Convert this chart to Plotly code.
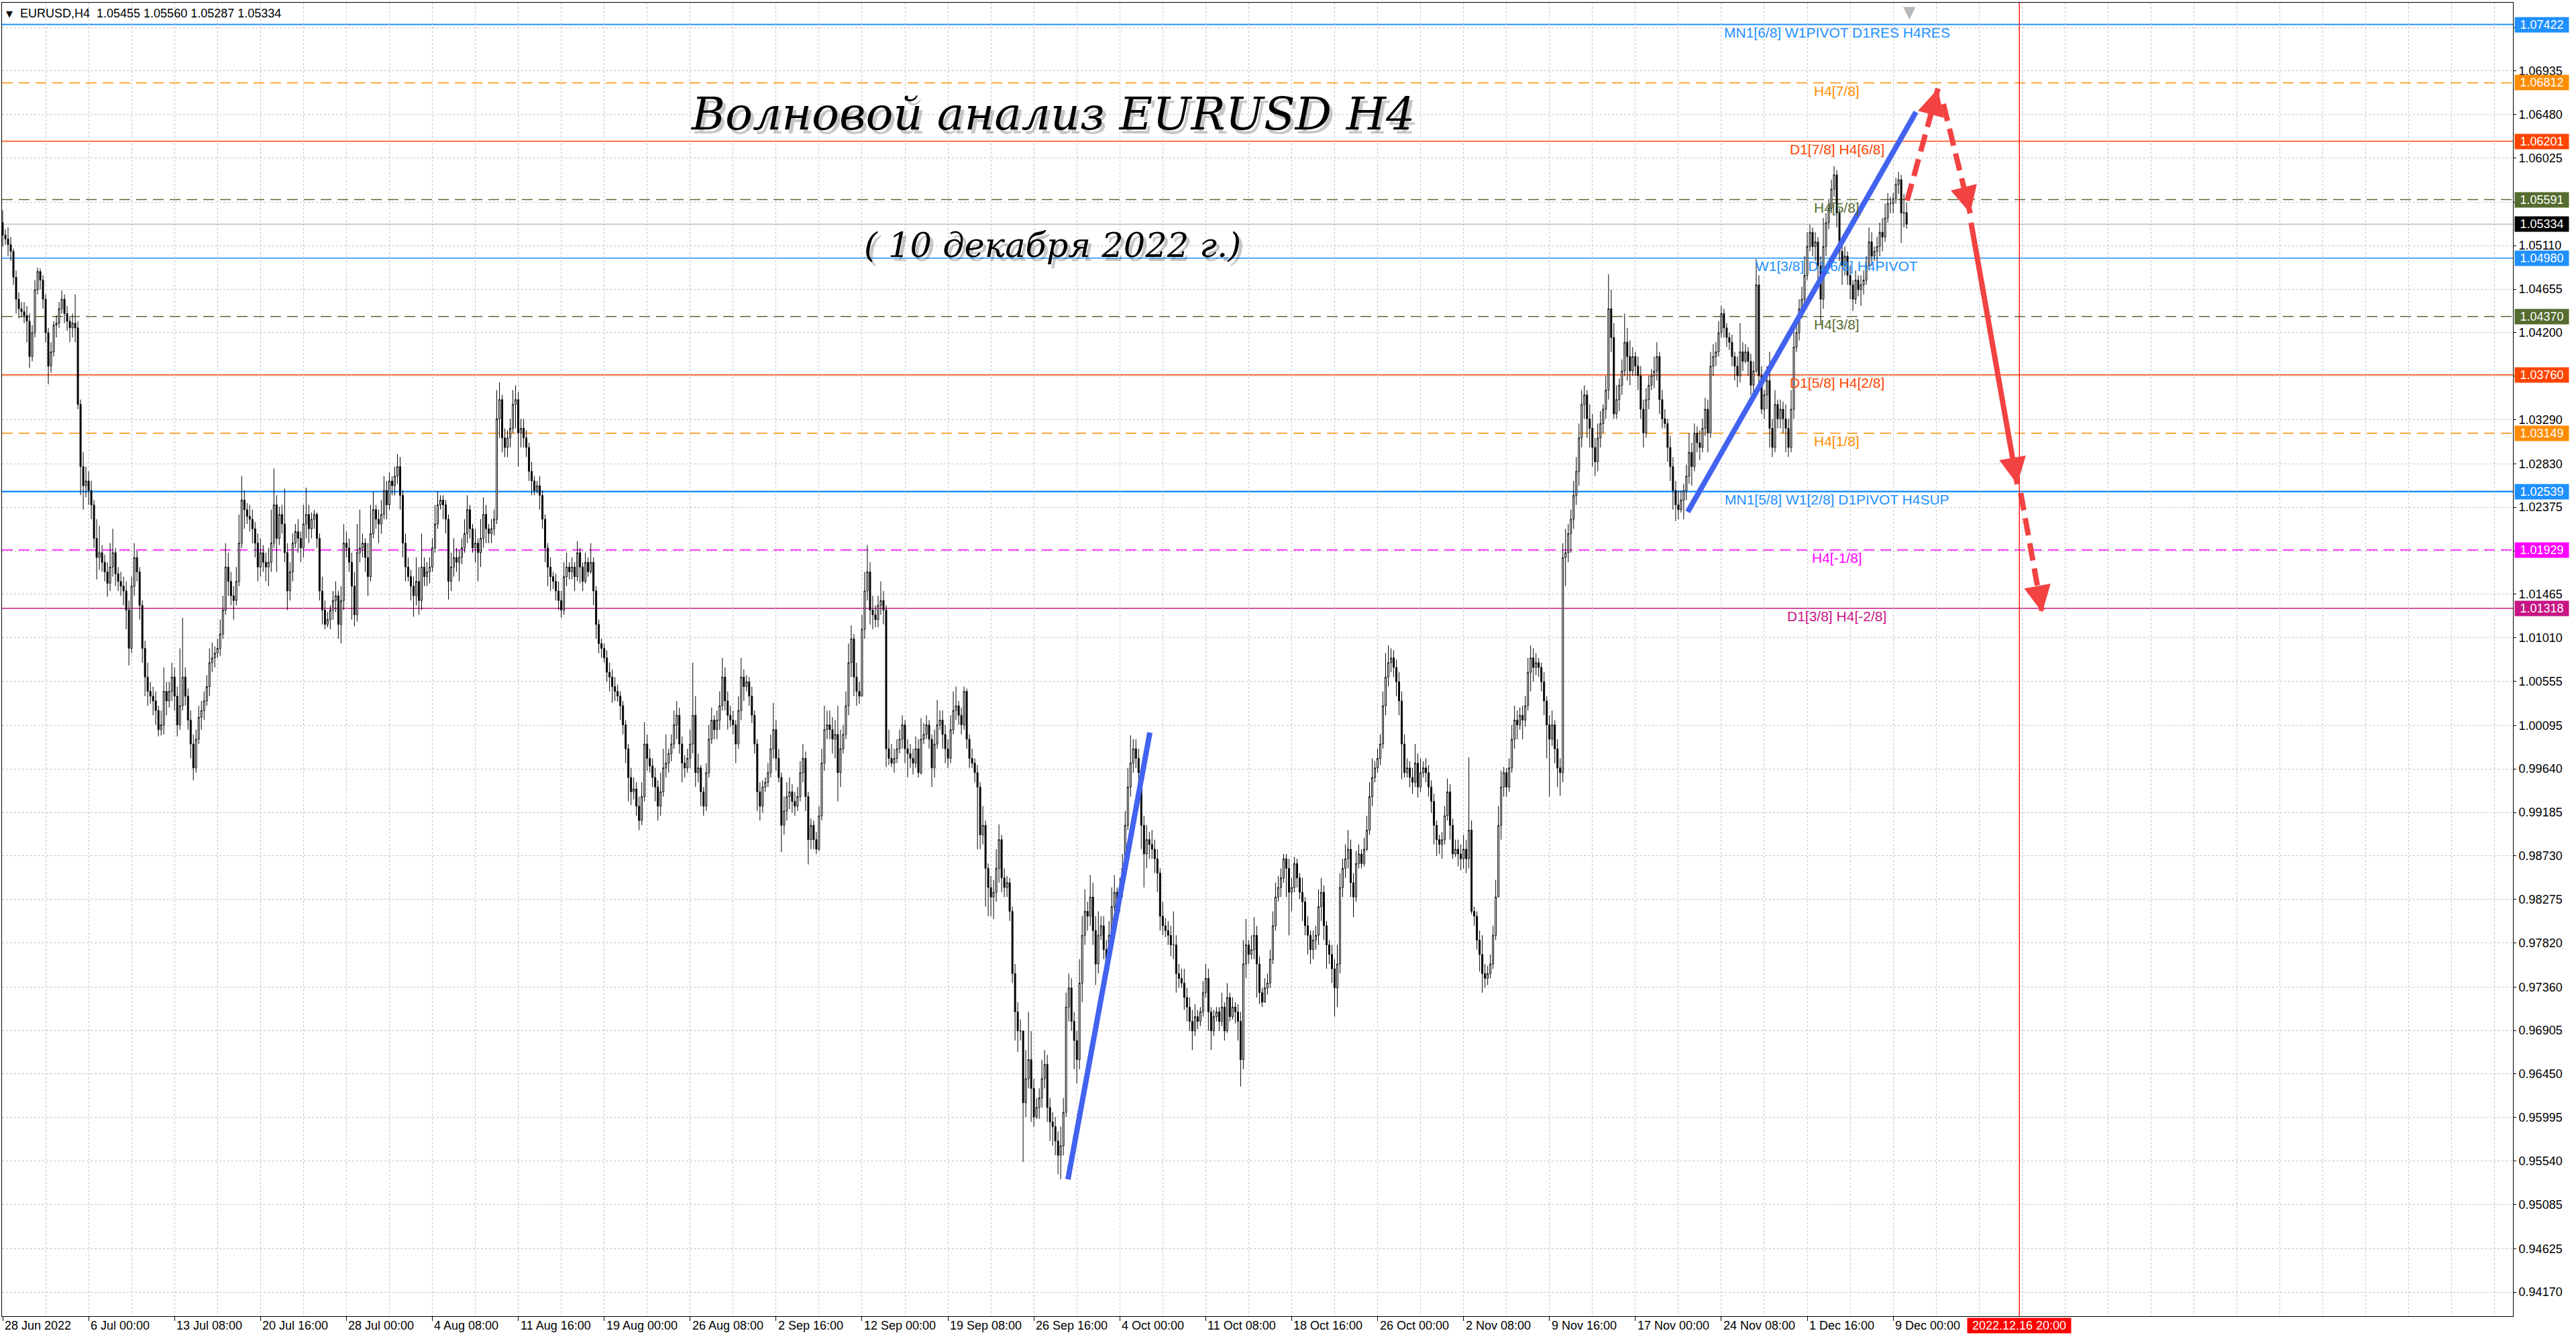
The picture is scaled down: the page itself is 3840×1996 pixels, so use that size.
import math
import plotly.graph_objects as go

# ---------------- DATA (EURUSD H4, prices in pips = 1e-4) ----------------
first_open = 10535
closes = [
    10522, 10518,
    10512, 10505, 10478, 10455, 10445, 10442,
    10438, 10432, 10395, 10420, 10465, 10484,
    10475, 10455, 10420, 10385, 10400, 10428,
    10430, 10445, 10455, 10440, 10432, 10425,
    10430, 10425, 10345, 10280, 10260, 10265,
    10255, 10240, 10205, 10185, 10190, 10180,
    10170, 10158, 10175, 10190, 10168, 10160,
    10155, 10150, 10130, 10090, 10155, 10185,
    10170, 10135, 10090, 10060, 10045, 10040,
    10035, 10025, 10005, 10010, 10045, 10035,
    10045, 10060, 10040, 10010, 10030, 10060,
    10040, 10015, 9990, 9965, 9995, 10018,
    10025, 10035, 10050, 10075, 10080, 10085,
    10090, 10105, 10130, 10175, 10160, 10145,
    10140, 10160, 10200, 10245, 10235, 10228,
    10225, 10215, 10200, 10175, 10190, 10180,
    10175, 10180, 10200, 10240, 10205, 10230,
    10220, 10190, 10150, 10170, 10200, 10212,
    10205, 10195, 10220, 10230, 10215, 10225,
    10230, 10205, 10150, 10130, 10115, 10120,
    10130, 10140, 10145, 10115, 10140, 10200,
    10195, 10180, 10155, 10125, 10190, 10195,
    10200, 10185, 10165, 10210, 10235, 10225,
    10220, 10230, 10255, 10240, 10265, 10260,
    10270, 10280, 10250, 10200, 10175, 10165,
    10155, 10145, 10160, 10140, 10175, 10165,
    10170, 10175, 10195, 10220, 10240, 10245,
    10240, 10225, 10160, 10175, 10185, 10180,
    10185, 10195, 10210, 10235, 10215, 10195,
    10200, 10190, 10205, 10230, 10215, 10210,
    10215, 10225, 10330, 10350, 10310, 10300,
    10310, 10320, 10345, 10350, 10315, 10320,
    10310, 10300, 10275, 10265, 10255, 10260,
    10250, 10225, 10195, 10175, 10165, 10160,
    10150, 10140, 10130, 10165, 10175, 10170,
    10175, 10165, 10190, 10175, 10160, 10180,
    10170, 10180, 10150, 10115, 10095, 10090,
    10080, 10065, 10060, 10050, 10045, 10040,
    10030, 10010, 9985, 9955, 9940, 9943,
    9925, 9910, 9935, 9990, 9975, 9967,
    9955, 9945, 9925, 9940, 9965, 9970,
    9980, 9990, 10010, 10020, 9990, 9970,
    9965, 9975, 9990, 10020, 9960, 9965,
    9940, 9925, 9960, 9995, 10015, 10005,
    10015, 10030, 10060, 10035, 10020, 10015,
    10010, 9990, 10025, 10060, 10050, 10055,
    10040, 10020, 9990, 9940, 9925, 9945,
    9950, 9960, 9985, 10005, 9975, 9955,
    9905, 9920, 9935, 9940, 9930, 9925,
    9935, 9960, 9975, 9935, 9890, 9905,
    9890, 9880, 9915, 9970, 10005, 10010,
    10005, 9995, 10000, 9960, 9985, 10000,
    10030, 10075, 10100, 10060, 10045, 10040,
    10110, 10150, 10170, 10130, 10125, 10120,
    10135, 10140, 10130, 9985, 9975, 9970,
    9975, 9985, 9995, 10010, 9985, 9980,
    9975, 9970, 9985, 9960, 9995, 10000,
    10010, 9995, 9965, 9990, 10010, 10015,
    10000, 9985, 9975, 10005, 10025, 10030,
    10020, 10010, 10045, 9995, 9975, 9970,
    9960, 9945, 9895, 9905, 9860, 9840,
    9830, 9835, 9860, 9890, 9850, 9840,
    9845, 9815, 9750, 9710, 9690, 9690,
    9615, 9640, 9660, 9630, 9600, 9610,
    9620, 9640, 9655, 9610, 9595, 9590,
    9575, 9560, 9570, 9605, 9715, 9735,
    9700, 9680, 9660, 9740, 9790, 9815,
    9810, 9830, 9795, 9760, 9790, 9800,
    9775, 9760, 9790, 9820, 9835, 9825,
    9840, 9860, 9905, 9945, 9970, 9985,
    9975, 9960, 9905, 9875, 9890, 9885,
    9880, 9870, 9855, 9810, 9800, 9795,
    9790, 9780, 9780, 9750, 9745, 9740,
    9725, 9715, 9700, 9690, 9705, 9700,
    9710, 9730, 9745, 9710, 9690, 9705,
    9710, 9700, 9715, 9690, 9725, 9705,
    9715, 9710, 9700, 9660, 9760, 9780,
    9770, 9775, 9790, 9760, 9730, 9720,
    9735, 9740, 9765, 9800, 9830, 9840,
    9850, 9870, 9860, 9835, 9840, 9865,
    9850, 9835, 9825, 9800, 9790, 9775,
    9785, 9790, 9820, 9835, 9800, 9780,
    9770, 9755, 9735, 9760, 9840, 9860,
    9870, 9880, 9845, 9830, 9865, 9875,
    9865, 9880, 9900, 9935, 9955, 9965,
    9975, 9990, 10030, 10060, 10075, 10080,
    10070, 10055, 10035, 9990, 9960, 9965,
    9955, 9950, 9970, 9945, 9960, 9965,
    9960, 9945, 9930, 9905, 9890, 9885,
    9890, 9915, 9940, 9905, 9875, 9880,
    9875, 9870, 9880, 9870, 9900, 9815,
    9810, 9785, 9770, 9750, 9745, 9750,
    9760, 9790, 9830, 9905, 9945, 9960,
    9945, 9965, 9995, 10015, 10010, 10020,
    10015, 10030, 10065, 10080, 10070, 10075,
    10070, 10055, 10035, 10010, 9995, 10010,
    9985, 9965, 9960, 10185, 10190, 10210,
    10225, 10250, 10275, 10310, 10345, 10355,
    10330, 10320, 10300, 10285, 10310, 10325,
    10340, 10360, 10445, 10415, 10335, 10350,
    10365, 10380, 10410, 10395, 10380, 10395,
    10385, 10375, 10340, 10315, 10350, 10365,
    10375, 10380, 10395, 10350, 10330, 10325,
    10300, 10280, 10255, 10240, 10235, 10245,
    10255, 10270, 10295, 10280, 10315, 10305,
    10300, 10320, 10340, 10315, 10385, 10395,
    10400, 10420, 10440, 10425, 10415, 10410,
    10395, 10385, 10375, 10400, 10390, 10400,
    10390, 10365, 10380, 10470, 10375, 10340,
    10355, 10370, 10320, 10300, 10345, 10330,
    10340, 10330, 10320, 10300, 10340, 10405,
    10420, 10445, 10455, 10480, 10510, 10525,
    10510, 10515, 10490, 10455, 10510, 10535,
    10550, 10570, 10585, 10545, 10505, 10490,
    10500, 10480, 10470, 10455, 10475, 10465,
    10470, 10475, 10490, 10515, 10500, 10505,
    10510, 10525, 10520, 10540, 10555, 10555,
    10560, 10575, 10580, 10545, 10545.5, 10533.4,
]
highs = [
    10548, 10528,
    10530, 10520, 10508, 10485, 10462, 10452,
    10452, 10448, 10440, 10428, 10475, 10488,
    10487, 10480, 10460, 10425, 10410, 10432,
    10438, 10452, 10464, 10460, 10448, 10436,
    10440, 10460, 10432, 10350, 10295, 10280,
    10275, 10265, 10245, 10225, 10218, 10198,
    10188, 10180, 10200, 10215, 10195, 10175,
    10170, 10165, 10160, 10140, 10165, 10200,
    10192, 10175, 10140, 10098, 10075, 10055,
    10050, 10045, 10030, 10025, 10070, 10055,
    10055, 10075, 10070, 10050, 10090, 10122,
    10070, 10048, 10025, 10000, 10005, 10030,
    10035, 10045, 10062, 10090, 10096, 10092,
    10100, 10120, 10145, 10200, 10190, 10170,
    10155, 10175, 10230, 10270, 10255, 10242,
    10240, 10235, 10222, 10210, 10205, 10198,
    10190, 10195, 10235, 10278, 10250, 10238,
    10240, 10257, 10200, 10180, 10210, 10220,
    10225, 10212, 10240, 10258, 10240, 10232,
    10235, 10232, 10210, 10165, 10140, 10128,
    10135, 10150, 10160, 10150, 10155, 10220,
    10212, 10205, 10190, 10170, 10220, 10235,
    10210, 10205, 10200, 10240, 10254, 10240,
    10235, 10245, 10270, 10265, 10274, 10270,
    10280, 10293, 10290, 10255, 10210, 10185,
    10172, 10165, 10185, 10175, 10210, 10185,
    10180, 10185, 10205, 10240, 10254, 10250,
    10250, 10245, 10230, 10190, 10205, 10195,
    10192, 10205, 10225, 10250, 10240, 10220,
    10215, 10205, 10225, 10248, 10240, 10220,
    10225, 10235, 10360, 10368, 10355, 10320,
    10318, 10330, 10360, 10365, 10358, 10330,
    10330, 10318, 10305, 10285, 10270, 10265,
    10270, 10255, 10230, 10200, 10185, 10170,
    10168, 10160, 10150, 10180, 10190, 10180,
    10185, 10180, 10202, 10195, 10180, 10190,
    10185, 10200, 10185, 10155, 10120, 10100,
    10095, 10088, 10075, 10068, 10060, 10052,
    10045, 10035, 10015, 9990, 9965, 9955,
    9950, 9935, 9950, 10013, 10000, 9985,
    9975, 9965, 9952, 9960, 9985, 10000,
    9985, 10000, 10025, 10035, 10028, 9998,
    9978, 9985, 10005, 10075, 10040, 9980,
    9968, 9945, 9970, 10010, 10028, 10020,
    10025, 10045, 10080, 10070, 10045, 10030,
    10025, 10015, 10040, 10080, 10068, 10062,
    10060, 10050, 10025, 9995, 9950, 9952,
    9955, 9970, 10000, 10033, 10015, 9985,
    9960, 9935, 9950, 9955, 9948, 9940,
    9945, 9972, 9990, 9982, 9940, 9912,
    9910, 9898, 9925, 9985, 10030, 10025,
    10025, 10018, 10015, 10030, 10005, 10010,
    10045, 10095, 10114, 10105, 10075, 10055,
    10125, 10170, 10198, 10180, 10145, 10135,
    10145, 10160, 10150, 10135, 10005, 9990,
    9985, 9995, 10005, 10020, 10015, 9995,
    9990, 9985, 9998, 9995, 10017, 10012,
    10020, 10015, 10000, 10005, 10036, 10025,
    10025, 10010, 9995, 10020, 10045, 10050,
    10035, 10028, 10050, 10048, 10000, 9985,
    9975, 9968, 9950, 9925, 9910, 9865,
    9852, 9848, 9880, 9906, 9895, 9860,
    9852, 9850, 9820, 9760, 9720, 9702,
    9690, 9670, 9710, 9690, 9640, 9620,
    9630, 9660, 9670, 9665, 9620, 9605,
    9600, 9585, 9590, 9620, 9730, 9750,
    9745, 9710, 9690, 9765, 9810, 9838,
    9825, 9853, 9845, 9810, 9815, 9810,
    9810, 9785, 9805, 9840, 9853, 9840,
    9850, 9875, 9920, 9965, 9999, 9995,
    9995, 9985, 9965, 9915, 9905, 9898,
    9900, 9890, 9880, 9860, 9825, 9808,
    9805, 9800, 9815, 9790, 9760, 9755,
    9755, 9735, 9725, 9712, 9718, 9712,
    9715, 9742, 9760, 9755, 9715, 9712,
    9715, 9715, 9730, 9720, 9740, 9730,
    9725, 9720, 9718, 9710, 9785, 9807,
    9785, 9790, 9809, 9800, 9768, 9735,
    9745, 9750, 9775, 9815, 9845, 9852,
    9860, 9875, 9875, 9870, 9850, 9872,
    9870, 9855, 9850, 9830, 9810, 9795,
    9795, 9800, 9838, 9850, 9842, 9805,
    9785, 9780, 9765, 9780, 9855, 9870,
    9885, 9900, 9890, 9855, 9878, 9885,
    9880, 9892, 9915, 9950, 9975, 9972,
    9985, 10000, 10045, 10085, 10093, 10090,
    10088, 10078, 10065, 10045, 10000, 9975,
    9972, 9965, 9990, 9980, 9975, 9972,
    9975, 9968, 9952, 9938, 9910, 9895,
    9898, 9925, 9954, 9948, 9912, 9890,
    9890, 9885, 9895, 9890, 9976, 9910,
    9820, 9815, 9795, 9790, 9760, 9758,
    9770, 9800, 9848, 9925, 9962, 9966,
    9965, 9975, 10010, 10030, 10025, 10028,
    10030, 10040, 10080, 10093, 10090, 10085,
    10080, 10075, 10065, 10040, 10020, 10025,
    10015, 9995, 9975, 10200, 10215, 10220,
    10235, 10265, 10290, 10325, 10360, 10365,
    10360, 10345, 10335, 10310, 10325, 10338,
    10345, 10375, 10481, 10465, 10430, 10365,
    10372, 10392, 10440, 10425, 10412, 10405,
    10400, 10395, 10385, 10350, 10362, 10375,
    10382, 10395, 10410, 10400, 10360, 10340,
    10330, 10312, 10290, 10265, 10255, 10255,
    10262, 10282, 10315, 10305, 10325, 10322,
    10318, 10330, 10352, 10350, 10400, 10408,
    10410, 10432, 10448, 10445, 10430, 10420,
    10418, 10400, 10395, 10430, 10410, 10408,
    10405, 10398, 10390, 10497, 10480, 10385,
    10360, 10385, 10400, 10330, 10360, 10350,
    10350, 10348, 10345, 10330, 10360, 10428,
    10432, 10455, 10468, 10500, 10525, 10533,
    10530, 10525, 10520, 10500, 10540, 10545,
    10560, 10580, 10594, 10590, 10550, 10512,
    10510, 10505, 10490, 10475, 10485, 10480,
    10480, 10485, 10500, 10530, 10525, 10510,
    10520, 10535, 10540, 10555, 10566, 10562,
    10566, 10582, 10588, 10585, 10565, 10556.0,
]
lows = [
    10510, 10512,
    10500, 10495, 10470, 10440, 10435, 10436,
    10430, 10410, 10383, 10390, 10415, 10460,
    10465, 10445, 10410, 10366, 10378, 10395,
    10415, 10425, 10440, 10430, 10422, 10410,
    10415, 10410, 10340, 10250, 10235, 10248,
    10240, 10225, 10195, 10162, 10172, 10170,
    10160, 10144, 10150, 10165, 10155, 10150,
    10145, 10135, 10110, 10072, 10085, 10145,
    10160, 10120, 10075, 10040, 10030, 10032,
    10020, 10010, 9998, 9999, 10000, 10020,
    10028, 10035, 10025, 9998, 10005, 10025,
    10030, 10005, 9975, 9952, 9960, 9990,
    10005, 10015, 10030, 10040, 10065, 10070,
    10080, 10082, 10100, 10125, 10145, 10135,
    10120, 10135, 10155, 10195, 10215, 10220,
    10212, 10200, 10185, 10160, 10165, 10170,
    10160, 10155, 10170, 10195, 10170, 10198,
    10210, 10180, 10130, 10140, 10160, 10195,
    10190, 10180, 10185, 10205, 10200, 10205,
    10215, 10195, 10140, 10115, 10110, 10112,
    10110, 10120, 10128, 10100, 10095, 10130,
    10185, 10170, 10120, 10113, 10118, 10180,
    10185, 10170, 10145, 10160, 10205, 10215,
    10200, 10210, 10225, 10225, 10235, 10250,
    10250, 10262, 10235, 10185, 10160, 10160,
    10140, 10123, 10135, 10125, 10130, 10155,
    10155, 10158, 10170, 10190, 10215, 10235,
    10225, 10210, 10141, 10150, 10165, 10170,
    10160, 10178, 10190, 10200, 10205, 10190,
    10180, 10160, 10175, 10195, 10200, 10200,
    10200, 10208, 10220, 10310, 10295, 10290,
    10290, 10300, 10315, 10320, 10280, 10300,
    10300, 10290, 10265, 10250, 10250, 10252,
    10235, 10215, 10180, 10155, 10150, 10152,
    10140, 10130, 10122, 10125, 10155, 10162,
    10162, 10150, 10160, 10158, 10150, 10158,
    10165, 10168, 10135, 10100, 10085, 10080,
    10075, 10055, 10045, 10033, 10035, 10034,
    10015, 10000, 9970, 9930, 9926, 9932,
    9915, 9900, 9905, 9930, 9962, 9960,
    9945, 9930, 9910, 9915, 9935, 9955,
    9960, 9972, 9985, 9995, 9980, 9950,
    9955, 9960, 9965, 9980, 9945, 9950,
    9925, 9915, 9920, 9955, 9990, 9995,
    9995, 10005, 10025, 10025, 10005, 10008,
    10000, 9970, 9985, 10015, 10035, 10045,
    10030, 10012, 9980, 9920, 9910, 9918,
    9940, 9945, 9955, 9975, 9962, 9950,
    9877, 9895, 9910, 9922, 9918, 9915,
    9920, 9930, 9950, 9920, 9864, 9880,
    9880, 9875, 9878, 9910, 9962, 9995,
    9995, 9980, 9975, 9930, 9945, 9980,
    9995, 10020, 10060, 10040, 10030, 10032,
    10040, 10100, 10140, 10115, 10110, 10112,
    10112, 10125, 10115, 9966, 9968, 9966,
    9960, 9970, 9980, 9985, 9970, 9955,
    9965, 9958, 9965, 9955, 9958, 9990,
    9995, 9985, 9945, 9955, 9985, 10005,
    9985, 9970, 9965, 9970, 10000, 10015,
    10010, 10000, 10005, 9985, 9965, 9965,
    9950, 9880, 9880, 9885, 9820, 9810,
    9810, 9807, 9825, 9845, 9835, 9830,
    9830, 9805, 9740, 9680, 9668, 9680,
    9553, 9600, 9630, 9595, 9590, 9598,
    9598, 9610, 9630, 9595, 9575, 9570,
    9560, 9540, 9535, 9560, 9600, 9700,
    9690, 9650, 9635, 9650, 9720, 9780,
    9795, 9800, 9780, 9738, 9750, 9785,
    9765, 9750, 9755, 9785, 9815, 9818,
    9815, 9830, 9855, 9900, 9935, 9960,
    9965, 9945, 9880, 9840, 9860, 9870,
    9870, 9855, 9835, 9795, 9790, 9788,
    9780, 9768, 9765, 9730, 9735, 9735,
    9712, 9700, 9690, 9670, 9685, 9692,
    9695, 9705, 9725, 9690, 9670, 9685,
    9700, 9690, 9695, 9680, 9688, 9700,
    9702, 9698, 9680, 9632, 9650, 9745,
    9760, 9765, 9765, 9725, 9718, 9715,
    9720, 9728, 9735, 9760, 9795, 9825,
    9830, 9845, 9830, 9790, 9815, 9835,
    9840, 9828, 9805, 9790, 9770, 9760,
    9765, 9775, 9780, 9805, 9785, 9755,
    9760, 9740, 9705, 9715, 9750, 9830,
    9850, 9860, 9830, 9809, 9825, 9860,
    9860, 9862, 9878, 9895, 9925, 9950,
    9960, 9968, 9985, 10020, 10050, 10065,
    10060, 10040, 10020, 9953, 9955, 9955,
    9945, 9938, 9945, 9934, 9940, 9955,
    9950, 9935, 9918, 9885, 9873, 9875,
    9870, 9885, 9910, 9890, 9870, 9872,
    9862, 9858, 9860, 9855, 9860, 9812,
    9800, 9775, 9752, 9730, 9735, 9738,
    9745, 9755, 9785, 9830, 9890, 9935,
    9935, 9940, 9960, 9985, 9995, 10005,
    9995, 10008, 10025, 10045, 10055, 10062,
    10060, 10045, 10020, 9975, 9935, 9988,
    9970, 9945, 9936, 9950, 10155, 10180,
    10190, 10215, 10240, 10260, 10300, 10330,
    10310, 10300, 10280, 10270, 10275, 10300,
    10315, 10330, 10350, 10400, 10330, 10330,
    10338, 10355, 10375, 10370, 10365, 10375,
    10375, 10360, 10330, 10300, 10310, 10340,
    10360, 10362, 10370, 10335, 10320, 10320,
    10285, 10265, 10235, 10223, 10225, 10232,
    10225, 10245, 10262, 10260, 10275, 10295,
    10287, 10295, 10312, 10295, 10310, 10375,
    10385, 10395, 10415, 10415, 10405, 10402,
    10385, 10370, 10363, 10368, 10380, 10388,
    10375, 10355, 10358, 10378, 10360, 10335,
    10330, 10340, 10300, 10290, 10295, 10320,
    10320, 10315, 10295, 10290, 10295, 10330,
    10400, 10412, 10435, 10450, 10475, 10505,
    10500, 10495, 10475, 10429, 10445, 10500,
    10528, 10545, 10562, 10530, 10495, 10470,
    10480, 10470, 10455, 10443, 10450, 10458,
    10448, 10460, 10470, 10485, 10490, 10495,
    10487, 10500, 10505, 10515, 10535, 10545,
    10545, 10555, 10565, 10514, 10530, 10528.7,
]

# time axis labels (one every 32 H4 bars)
time_labels = ["28 Jun 2022", "6 Jul 00:00", "13 Jul 08:00", "20 Jul 16:00", "28 Jul 00:00",
               "4 Aug 08:00", "11 Aug 16:00", "19 Aug 00:00", "26 Aug 08:00", "2 Sep 16:00",
               "12 Sep 00:00", "19 Sep 08:00", "26 Sep 16:00", "4 Oct 00:00", "11 Oct 08:00",
               "18 Oct 16:00", "26 Oct 00:00", "2 Nov 08:00", "9 Nov 16:00", "17 Nov 00:00",
               "24 Nov 08:00", "1 Dec 16:00", "9 Dec 00:00"]
label_step = 32
grid_step = 16

# price scale ticks
price_ticks = [1.07390, 1.06935, 1.06480, 1.06025, 1.05565, 1.05110, 1.04655, 1.04200, 1.03745,
               1.03290, 1.02830, 1.02375, 1.01920, 1.01465, 1.01010, 1.00555, 1.00095, 0.99640,
               0.99185, 0.98730, 0.98275, 0.97820, 0.97360, 0.96905, 0.96450, 0.95995, 0.95540,
               0.95085, 0.94625, 0.94170]

# Murrey / pivot levels
level_prices = [1.07422, 1.06812, 1.06201, 1.05591, 1.04980, 1.04370, 1.03760, 1.03149, 1.02539, 1.01929, 1.01318]
level_texts = ["MN1[6/8] W1PIVOT D1RES H4RES", "H4[7/8]", "D1[7/8] H4[6/8]", "H4[5/8]",
               "W1[3/8] D1[6/8] H4PIVOT", "H4[3/8]", "D1[5/8] H4[2/8]", "H4[1/8]",
               "MN1[5/8] W1[2/8] D1PIVOT H4SUP", "H4[-1/8]", "D1[3/8] H4[-2/8]"]
level_colors = ["#1E90FF", "#FF8C00", "#FF4500", "#556B2F", "#1E90FF", "#556B2F", "#FF4500",
                "#FF8C00", "#1E90FF", "#FF00FF", "#C71585"]
level_dashed = [False, True, False, True, False, True, False, True, False, True, False]
level_widths = [2, 1.5, 1.5, 1.5, 1.5, 1.5, 1.5, 1.5, 2.5, 1.5, 1.5]
level_text_bar = 683

current_price = 1.05334
header_text = "EURUSD,H4\u00a0\u00a01.05455 1.05560 1.05287 1.05334"

# drawn objects (bar index, price)
blue_lines = [
    ([396.7, 427.2], [0.95349, 1.00020]),
    ([627.5, 712.5], [1.02327, 1.06507]),
]
red_arrows = [
    ([709.2, 720.7], [1.05581, 1.06753], True),
    ([722.7, 732.7], [1.06591, 1.05448], True),
    ([733.0, 750.2], [1.05350, 1.02615], False),
    ([751.5, 759.5], [1.02523, 1.01275], True),
]
vline_bar = 751
vline_label = "2022.12.16 20:00"
shift_bar = 710.2

title_text = "Волновой анализ EURUSD H4"
subtitle_text = "( 10 декабря 2022 г.)"

# ---------------- BUILD ----------------
n = min(len(closes), len(highs), len(lows))
P = 1e-4
opens_p = [first_open] + closes[:n - 1]
o = [v * P for v in opens_p]
c = [v * P for v in closes[:n]]
h = [max(highs[i], opens_p[i], closes[i]) * P for i in range(n)]
l = [min(lows[i], opens_p[i], closes[i]) * P for i in range(n)]
xs = list(range(n))

x_range = [-0.25, 934.8]
y_range = [0.93918, 1.07650]
W, H = 3840, 1996
M = dict(l=3, r=94, t=4, b=34)
px_per_bar = (W - M["l"] - M["r"]) / (x_range[1] - x_range[0])
px_per_price = (H - M["t"] - M["b"]) / (y_range[1] - y_range[0])

FONT = "Liberation Sans"
RED = "#F24242"
fig = go.Figure()
fig.add_trace(go.Candlestick(
    x=xs, open=o, high=h, low=l, close=c,
    increasing=dict(line=dict(color="black", width=1), fillcolor="white"),
    decreasing=dict(line=dict(color="black", width=1), fillcolor="black"),
    whiskerwidth=0, hoverinfo="skip", showlegend=False))

for bx, by in blue_lines:
    fig.add_trace(go.Scatter(x=bx, y=by, mode="lines",
                             line=dict(color="#4262F0", width=8),
                             hoverinfo="skip", showlegend=False))

annotations = []
for ax_, ay_, dashed in red_arrows:
    fig.add_trace(go.Scatter(
        x=ax_, y=ay_, mode="lines",
        line=dict(color=RED, width=8, dash="26px,12px" if dashed else "solid"),
        hoverinfo="skip", showlegend=False, cliponaxis=False))
    # arrow head at the end point (short tail measured in screen pixels)
    dxp = (ax_[1] - ax_[0]) * px_per_bar
    dyp = -(ay_[1] - ay_[0]) * px_per_price
    L = math.hypot(dxp, dyp)
    tail = 30.0
    annotations.append(dict(x=ax_[1], y=ay_[1], xref="x", yref="y",
                            ax=-dxp / L * tail, ay=-dyp / L * tail,
                            text="", showarrow=True, arrowhead=2, arrowsize=1.0, arrowwidth=8,
                            arrowcolor=RED, standoff=0))

shapes = []
for p, col, d, w in zip(level_prices, level_colors, level_dashed, level_widths):
    shapes.append(dict(type="line", xref="paper", x0=0, x1=1, yref="y", y0=p, y1=p,
                       line=dict(color=col, width=w, dash="16px,9px" if d else "solid"),
                       layer="between"))
shapes.append(dict(type="line", xref="paper", x0=0, x1=1, yref="y", y0=current_price, y1=current_price,
                   line=dict(color="#C0C0C0", width=1.5), layer="between"))
shapes.append(dict(type="line", xref="x", x0=vline_bar, x1=vline_bar, yref="paper", y0=0, y1=1,
                   line=dict(color="#FF2020", width=1.5), layer="above"))

# level texts
for p, t, col in zip(level_prices, level_texts, level_colors):
    annotations.append(dict(x=level_text_bar, y=p, xref="x", yref="y", text=t, showarrow=False,
                            xanchor="center", yanchor="middle", yshift=-12,
                            font=dict(family=FONT, size=21, color=col)))
# price boxes on right scale
box_prices = level_prices + [current_price]
box_colors = level_colors + ["#000000"]
for p, col in zip(box_prices, box_colors):
    annotations.append(dict(x=1, y=p, xref="paper", yref="y", text=f"{p:.5f}", showarrow=False,
                            xanchor="left", yanchor="middle", xshift=2,
                            bgcolor=col, width=78, height=20, borderpad=1, align="center",
                            font=dict(family=FONT, size=18, color="white")))
# time labels
for i, t in enumerate(time_labels):
    annotations.append(dict(x=i * label_step, y=0, xref="x", yref="paper", text=t, showarrow=False,
                            xanchor="left", yanchor="top", xshift=1, yshift=-2,
                            font=dict(family=FONT, size=18, color="black")))
annotations.append(dict(x=vline_bar, y=0, xref="x", yref="paper", text=vline_label, showarrow=False,
                        xanchor="center", yanchor="top", yshift=-2, bgcolor="#FF0000",
                        width=152, height=20, borderpad=1,
                        font=dict(family=FONT, size=18, color="white")))
# header
annotations.append(dict(x=0.0012, y=0.9918, xref="paper", yref="paper", text="▼", showarrow=False,
                        xanchor="left", yanchor="middle", font=dict(family="DejaVu Sans", size=13, color="black")))
annotations.append(dict(x=0.0067, y=0.9918, xref="paper", yref="paper", text=header_text, showarrow=False,
                        xanchor="left", yanchor="middle", font=dict(family=FONT, size=18, color="black")))
# chart shift marker
annotations.append(dict(x=shift_bar, y=1, xref="x", yref="paper", text="▼", showarrow=False,
                        xanchor="center", yanchor="top", yshift=2,
                        font=dict(family="DejaVu Sans", size=24, color="#B8B8B8")))
# titles with shadow
for txt, yy, sz in [(title_text, 0.9157, 68), (subtitle_text, 0.8156, 51)]:
    annotations.append(dict(x=0.4183, y=yy, xref="paper", yref="paper", text=txt, showarrow=False,
                            xanchor="center", yanchor="middle", xshift=5, yshift=-6,
                            font=dict(family="DejaVu Serif", size=sz, color="rgba(0,0,0,0.22)", style="italic")))
    annotations.append(dict(x=0.4183, y=yy, xref="paper", yref="paper", text=txt, showarrow=False,
                            xanchor="center", yanchor="middle",
                            font=dict(family="DejaVu Serif", size=sz, color="black", style="italic")))

major = list(range(0, len(time_labels) * label_step, label_step))
minor_vals = [v for v in range(0, int(x_range[1]) + 1, grid_step) if v not in major]

fig.update_layout(
    width=W, height=H,
    margin=M,
    paper_bgcolor="white", plot_bgcolor="white",
    showlegend=False, hovermode=False,
    font=dict(family=FONT, size=18, color="black"),
    shapes=shapes, annotations=annotations,
    xaxis=dict(range=x_range, tickvals=major, showticklabels=False,
               ticks="outside", ticklen=6, tickcolor="black",
               showgrid=True, gridcolor="#C4C4C4", griddash="3px,3px", gridwidth=1,
               minor=dict(tickvals=minor_vals, showgrid=True, gridcolor="#C4C4C4",
                          griddash="3px,3px", gridwidth=1, ticks=""),
               showline=True, linecolor="black", linewidth=1, mirror=True,
               zeroline=False, rangeslider=dict(visible=False), fixedrange=True),
    yaxis=dict(side="right", range=y_range, tickvals=price_ticks,
               ticktext=[f"{v:.5f}" for v in price_ticks],
               ticks="outside", ticklen=4, tickcolor="black",
               tickfont=dict(family=FONT, size=18, color="black"),
               showgrid=True, gridcolor="#C4C4C4", griddash="3px,3px", gridwidth=1,
               showline=True, linecolor="black", linewidth=1, mirror=True,
               zeroline=False, fixedrange=True),
)

fig.write_html("out.html", config={"displayModeBar": False},
               post_script="document.body.style.margin='0';document.body.style.overflow='hidden';")
